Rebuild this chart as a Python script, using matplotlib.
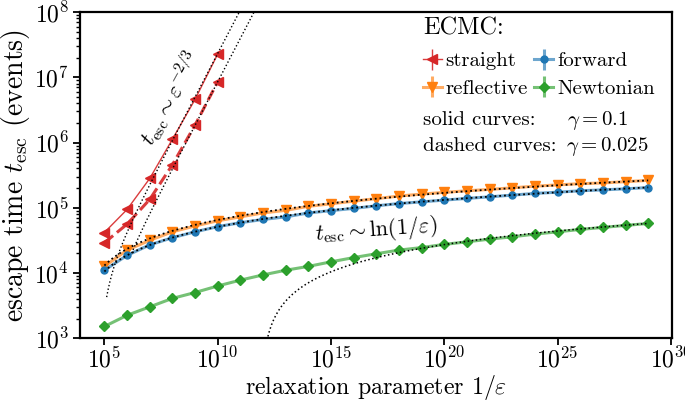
import numpy as np
import matplotlib
matplotlib.use("Agg")
import matplotlib.pyplot as plt
from matplotlib.colors import to_rgba
from matplotlib.ticker import LogLocator, NullLocator, FixedLocator, LogFormatterMathtext

plt.rcParams['font.family'] = 'serif'
plt.rcParams['font.serif'] = ['cmr10', 'DejaVu Serif']
plt.rcParams['mathtext.fontset'] = 'cm'
plt.rcParams['axes.unicode_minus'] = False
plt.rcParams['axes.formatter.use_mathtext'] = True

# ---------------- data ----------------
relax_decades = list(range(5, 30))            # 1/eps = 10^5 ... 10^29
relax = [10.0 ** k for k in relax_decades]
relax_red = relax[:6]                          # 10^5 ... 10^10

straight_solid = [4.17e4, 9.4e4, 2.81e5, 1.12e6, 4.58e6, 2.27e7]
straight_dashed = [2.9e4, 5.6e4, 1.34e5, 4.55e5, 1.85e6, 8.53e6]

reflective = [1.26e4, 2.24e4, 3.16e4, 4.27e4, 5.25e4, 6.31e4, 7.24e4, 8.32e4, 9.12e4,
              1.05e5, 1.15e5, 1.26e5, 1.38e5, 1.51e5, 1.62e5, 1.72e5, 1.82e5, 1.91e5,
              2.02e5, 2.14e5, 2.24e5, 2.34e5, 2.40e5, 2.51e5, 2.63e5]
forward = [1.10e4, 1.86e4, 2.69e4, 3.47e4, 4.27e4, 5.13e4, 5.89e4, 6.61e4, 7.24e4,
           8.32e4, 9.02e4, 9.77e4, 1.07e5, 1.16e5, 1.23e5, 1.31e5, 1.39e5, 1.47e5,
           1.56e5, 1.66e5, 1.73e5, 1.82e5, 1.88e5, 1.95e5, 2.04e5]
newtonian = [1.51e3, 2.24e3, 3.02e3, 4.07e3, 5.01e3, 6.31e3, 7.76e3, 9.33e3, 1.10e4,
             1.26e4, 1.48e4, 1.72e4, 1.97e4, 2.24e4, 2.45e4, 2.74e4, 3.00e4, 3.30e4,
             3.58e4, 3.94e4, 4.27e4, 4.65e4, 4.99e4, 5.36e4, 5.74e4]

# fit parameters
# power law t = A * (1/eps)^(2/3) - B
pow_solid = (5.0, 8.3e3, 5.1)     # A, B, start decade
pow_dashed = (1.84, 5.0e3, 6.2)
# logarithmic t = a * (log10(1/eps) - d0)
ln_reflective = (1.04e4, 3.75)
ln_forward = (8.1e3, 3.7)
ln_newtonian = (3360.0, 11.9)

# ---------------- figure ----------------
fig = plt.figure(figsize=(6.85, 4.04), dpi=100)
ax = fig.add_axes([0.117, 0.163, 0.864, 0.807])
ax.set_xscale('log')
ax.set_yscale('log')

RED, ORANGE, BLUE, GREEN = '#d62728', '#ff7f0e', '#1f77b4', '#2ca02c'


def eb(x, y, c, marker, ms, ls='-', lw=2.2, label=None, alpha=0.65):
    z = np.zeros(len(y))
    return ax.errorbar(x, y, yerr=z, color=to_rgba(c, alpha), ecolor=to_rgba(c, alpha),
                       marker=marker, ms=ms, mfc=c, mec=c, ls=ls, lw=lw, label=label,
                       zorder=3)


h_straight = eb(relax_red, straight_solid, RED, '<', 7, lw=1.0, label='straight', alpha=0.9)
eb(relax_red, straight_dashed, RED, '<', 7, ls='--', lw=2.2, alpha=0.9)
h_reflective = eb(relax, reflective, ORANGE, 'v', 7, label='reflective')
h_forward = eb(relax, forward, BLUE, 'o', 5, label='forward')
h_newton = eb(relax, newtonian, GREEN, 'D', 5.5, label='Newtonian')

# fits
dsol = np.linspace(pow_solid[2], 12.0, 300)
xs = 10.0 ** dsol
ax.plot(xs, pow_solid[0] * xs ** (2 / 3) - pow_solid[1], ls=':', color='k', lw=1.0, zorder=4)
ddash = np.linspace(pow_dashed[2], 12.0, 300)
xd = 10.0 ** ddash
ax.plot(xd, pow_dashed[0] * xd ** (2 / 3) - pow_dashed[1], ls=':', color='k', lw=1.0, zorder=4)

dl = np.linspace(5, 29, 300)
ax.plot(10.0 ** dl, ln_reflective[0] * (dl - ln_reflective[1]), ls=':', color='k', lw=1.3, zorder=4)
ax.plot(10.0 ** dl, ln_forward[0] * (dl - ln_forward[1]), ls=':', color='k', lw=1.3, zorder=4)
dg = np.linspace(ln_newtonian[1] + 0.05, 29, 400)
ax.plot(10.0 ** dg, ln_newtonian[0] * (dg - ln_newtonian[1]), ls=':', color='k', lw=1.1, zorder=4)

ax.set_xlim(10 ** 3.93, 10 ** 30.05)
ax.set_ylim(1e3, 1e8)

ax.xaxis.set_major_locator(FixedLocator([1e5, 1e10, 1e15, 1e20, 1e25, 1e30]))
ax.xaxis.set_major_formatter(LogFormatterMathtext())
ax.xaxis.set_minor_locator(NullLocator())
ax.yaxis.set_major_locator(LogLocator(base=10, numticks=20))
ax.yaxis.set_minor_locator(LogLocator(base=10, subs=np.arange(2, 10), numticks=20))

for s in ax.spines.values():
    s.set_linewidth(1.6)
ax.tick_params(which='major', direction='out', length=5, width=1.3, labelsize=17, pad=3)
ax.tick_params(axis='x', which='major', pad=1.5)
ax.tick_params(which='minor', direction='out', length=3, width=1.0)

ax.set_xlabel(r'relaxation parameter $1/\varepsilon$', fontsize=17.2, labelpad=0)
ax.set_ylabel(r'escape time $t_\mathrm{esc}$ (events)', fontsize=20, labelpad=2)

# annotations
ax.text(10 ** 7.92, 10 ** 6.68, r'$t_\mathrm{esc}\sim\varepsilon^{-2/3}$', rotation=61,
        fontsize=16, ha='center', va='center')
ax.text(10 ** 17.0, 10 ** 4.65, r'$t_\mathrm{esc}\sim\ln(1/\varepsilon)$', rotation=4,
        fontsize=16, ha='center', va='center')

ax.text(0.579, 0.951, 'ECMC:', transform=ax.transAxes, fontsize=17.5,
        ha='left', va='center')
leg = ax.legend(handles=[h_straight, h_reflective, h_forward, h_newton], ncol=2,
                loc='upper left', bbox_to_anchor=(0.579, 0.878),
                frameon=False, fontsize=15,
                handlelength=0.9, handletextpad=0.2, columnspacing=0.3,
                labelspacing=0.42, borderpad=0, borderaxespad=0)

ax.text(0.579, 0.668, 'solid curves:', transform=ax.transAxes, fontsize=15,
        ha='left', va='center')
ax.text(0.823, 0.668, r'$\gamma = 0.1$', transform=ax.transAxes, fontsize=15,
        ha='left', va='center')
ax.text(0.579, 0.588, 'dashed curves:', transform=ax.transAxes, fontsize=15,
        ha='left', va='center')
ax.text(0.821, 0.588, r'$\gamma = 0.025$', transform=ax.transAxes, fontsize=15,
        ha='left', va='center')

fig.savefig('out.png', dpi=100)
